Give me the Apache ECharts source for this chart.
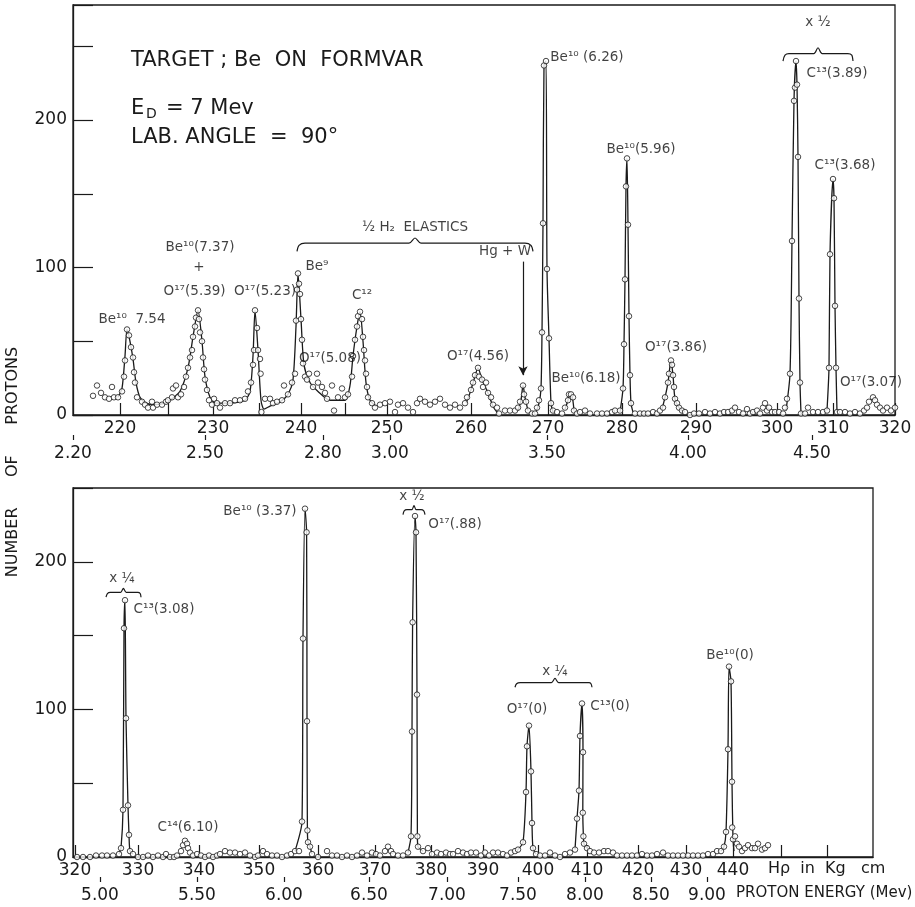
<!DOCTYPE html>
<html>
<head>
<meta charset="utf-8">
<script src="https://cdn.jsdelivr.net/npm/echarts@6/dist/echarts.min.js"></script>
<style>
html,body{margin:0;padding:0;background:#fff;}
#chart{width:915px;height:907px;}
</style>
</head>
<body>
<div id="chart"></div>
<script>
// ---------- DATA ----------
// x = position along the plate (arbitrary plate units), y = number of protons
const topPoints = [
[5,13],[6,20],[7,15],[8,12],[9,11],[9.75,19],[10.25,12],[11.25,12],[12.25,16],[12.75,26],[13,37],[13.5,58],[14,54],[14.5,46],[15,39],[15.25,29],[15.5,22],[16,12],[17.25,9],[18,7],[18.75,5],[19.75,9],[20,5],[21,7],[22.25,7],[23.25,9],[23.75,10],[24.75,12],[25,18],[25.75,20],[26.25,12],[27,14],[27.75,19],[28.25,26],[28.75,32],[29.25,39],[29.75,44],[30,53],[30.5,60],[30.75,66],[31.25,71],[31.5,65],[31.75,56],[32.25,50],[32.5,39],[32.75,31],[33,24],[33.5,17],[34,10],[34.75,7],[35.25,11],[36,8],[36.75,5],[38,8],[39.25,8],[40.5,10],[41.75,10],[43,11],[43.75,16],[44.5,22],[45,34],[45.25,44],[45.5,71],[46,59],[46.25,44],[46.75,38],[46.9,28],[47.1,2],[48,11],[49.25,11],[50,8],[51,9],[52.25,10],[52.75,20],[53.75,14],[54.75,22],[55.5,28],[55.75,64],[56,85],[56.25,96],[56.5,89],[56.75,82],[57,65],[57.25,51],[57.5,35],[58,26],[58.5,24],[59,28],[60,19],[61,28],[61.25,22],[62.25,19],[63,15],[63.5,11],[64.75,20],[65.25,3],[66.25,12],[67.25,18],[68,12],[68.75,14],[69.75,26],[70,40],[70.5,51],[71,60],[71.25,67],[71.75,70],[72.25,65],[72.5,53],[72.75,44],[73,37],[73.25,28],[73.5,19],[73.75,12],[74.75,8],[75.5,5],[76.75,7],[78,8],[79.25,9],[80.5,2],[81.25,7],[82.5,8],[83.75,5],[85,2],[86,8],[86.75,11],[88,9],[89.25,7],[90.5,9],[91.75,11],[93,7],[94.25,5],[95.5,7],[96.75,5],[98,8],[98.5,12],[99.5,17],[100,22],[100.5,27],[101.25,32],[101.5,26],[102.25,24],[102.5,19],[103.25,22],[103.75,15],[104.5,12],[105,7],[106,5],[106.5,1],[108,3],[109.25,3],[110.5,3],[111.25,5],[111.75,9],[112.5,20],[112.75,14],[113.25,9],[113.75,3],[114.75,1],[115.5,1],[116,5],[116.5,10],[117,18],[117.25,56],[117.5,130],[117.75,237],[118.25,240],[118.5,99],[119,52],[119.5,8],[120,3],[121,2],[122.25,1],[123,5],[123.75,10],[124,14],[124.5,14],[125,12],[125.25,3],[126,1],[126.75,2],[128,3],[129.25,1],[131,1],[132.25,1],[133.5,1],[134.75,2],[135.5,3],[136.75,3],[137.5,18],[137.75,48],[138,92],[138.25,155],[138.5,174],[138.75,129],[139,67],[139.25,27],[139.5,8],[140.5,1],[141.75,1],[142.75,1],[143.75,1],[145,2],[146,1],[146.75,3],[147.5,5],[148,12],[148.75,22],[149,28],[149.5,37],[149.75,34],[150,27],[150.25,19],[150.5,11],[151,8],[151.5,5],[152.25,3],[153,2],[154.25,0],[155.25,1],[156.5,1],[158,2],[159.25,1],[160.5,2],[161.75,1],[162.75,2],[163.75,2],[164.75,3],[165.5,5],[166.5,2],[167.5,1],[168.5,4],[169.25,1],[170,2],[171,3],[171.75,1],[172.5,5],[173,8],[173.5,3],[174,5],[174.75,2],[175.5,2],[176.5,2],[177.5,1],[178,5],[178.5,11],[179.25,28],[179.75,118],[180.25,213],[180.5,222],[180.75,240],[181,224],[181.25,175],[181.5,79],[181.75,22],[182,1],[183,1],[183.75,5],[185,2],[186.25,2],[187.5,2],[188.5,3],[189,32],[189.25,109],[190,160],[190.25,147],[190.5,74],[190.75,32],[191,2],[191.75,2],[193,2],[194.25,1],[195.5,2],[196.75,1],[197.75,3],[198.5,5],[199,9],[200,12],[200.5,10],[201,7],[201.75,5],[202.5,3],[203.5,5],[204.5,3],[205.5,5]
];
const topCurves = [
  [[11.25,12],[12.25,18],[13,40],[13.5,58],[14.25,50],[15,38],[15.75,22],[16.75,12],[18.25,8],[20.5,7],[23,8],[24.75,11],[26.75,16],[28.75,32],[30,53],[31.25,71],[32.25,50],[33,26],[34.25,12],[35.75,8],[39.25,8],[43,10],[44.25,16],[45,40],[45.5,71],[46.25,44],[47,10],[47.75,4],[49.25,6],[51.75,9],[53.75,14],[55,24],[55.75,60],[56.25,96],[57,65],[57.75,34],[59.25,22],[61.25,16],[64.25,10],[68,10],[69.25,20],[70,40],[71,60],[71.75,70],[72.5,50],[73.25,22],[74.25,10],[75.75,6]],
  [[98.25,8],[99.25,15],[100.25,24],[101.25,32],[102.25,24],[103.75,15],[105,6],[106.25,1]],
  [[111.25,3],[112,10],[112.5,20],[113,12],[113.75,3]],
  [[115.75,2],[116.5,8],[117,18],[117.25,56],[117.5,130],[117.75,237],[118.25,240],[118.5,99],[119,52],[119.5,8],[120,2]],
  [[123,4],[123.75,10],[124,14],[124.75,13],[125.25,3]],
  [[136.75,2],[137.5,18],[137.75,48],[138,92],[138.25,155],[138.5,174],[138.75,129],[139,67],[139.25,27],[139.5,8],[140,2]],
  [[147.25,4],[148,12],[148.75,22],[149.5,37],[150,27],[150.5,11],[151.5,5],[152.75,2]],
  [[178.25,3],[179.25,28],[179.75,118],[180.25,213],[180.75,240],[181,224],[181.25,175],[181.5,79],[181.75,22],[182,1]],
  [[188.5,3],[189,32],[189.25,109],[190,160],[190.25,147],[190.5,74],[190.75,32],[191,2]]
];
const bottomPoints = [
[1,0],[2.5,0],[4.25,0],[5.75,1],[7.25,1],[8.5,1],[10,1],[11.5,2],[12,6],[12.5,32],[12.75,155],[13,174],[13.25,94],[13.75,35],[14,15],[14.25,4],[15,2],[16.25,0],[17.5,0],[18.75,1],[20,0],[21.25,1],[22.5,0],[23.25,2],[24.25,0],[25.25,0],[26,1],[27,4],[27.5,8],[28,11],[28.5,9],[28.75,6],[29.25,3],[30,1],[31,2],[32,1],[33,0],[34,1],[35,0],[36,1],[36.75,2],[38,4],[39.25,3],[40.5,3],[41.75,2],[43,3],[44.25,1],[45.5,0],[46.25,1],[47.5,4],[48.5,2],[49.75,1],[51,1],[52.25,0],[53.5,1],[54.5,2],[55.5,4],[56.5,4],[57.25,24],[57.5,148],[58,236],[58.4,220],[58.5,92],[58.6,18],[58.75,10],[59.25,7],[59.75,2],[61.25,0],[63.5,4],[64.75,1],[66,1],[67.25,0],[68.5,1],[69.75,0],[71,1],[72.25,3],[73.5,1],[74.75,3],[75.75,2],[76.75,1],[78,4],[78.75,7],[79.5,4],[80,2],[81.25,1],[82.5,1],[83.75,3],[84.5,14],[84.75,85],[84.9,159],[85.5,231],[85.75,220],[86,110],[86.1,14],[86.25,7],[87.5,4],[88.75,6],[89.75,2],[91,3],[92,2],[93.25,3],[94.25,2],[95,2],[96.25,4],[97.5,3],[98.5,2],[99.5,3],[100.75,3],[102,1],[103,3],[104,1],[105,3],[106.25,3],[107.5,2],[108.5,1],[109.5,3],[110.5,4],[111.25,5],[112.5,10],[113.25,44],[113.5,75],[114,89],[114.5,58],[114.75,23],[115,6],[115.75,2],[116.75,1],[118,1],[119.25,3],[120.5,1],[121.75,0],[123,2],[124.25,3],[125.5,5],[126,26],[126.5,45],[126.75,82],[127.25,104],[127.5,71],[127.45,30],[127.6,14],[127.75,9],[128.5,6],[129.25,4],[130.25,3],[131.5,3],[132.75,4],[133.75,4],[135,3],[136,1],[137.25,1],[138.5,1],[139.75,1],[141,1],[142.25,2],[143.5,1],[144.75,1],[146,2],[147.5,3],[148.75,1],[150,1],[151.25,1],[152.5,1],[153.75,1],[155,1],[156.25,1],[157.5,1],[158.75,2],[160,2],[161,4],[162,4],[162.75,7],[163.25,17],[163.75,73],[164,129],[164.5,119],[164.75,51],[164.8,20],[165,12],[165.5,14],[166,9],[166.5,7],[167.25,4],[168,6],[168.75,8],[169.75,6],[170.5,6],[171.25,9],[172.25,5],[173,6],[173.75,8]
];
const bottomCurves = [
  [[11.5,2],[12,6],[12.5,32],[12.75,155],[13,174],[13.25,94],[13.75,35],[14,15],[14.25,4],[15,2]],
  [[55.5,4],[57.25,24],[57.5,148],[58,236],[58.4,220],[58.5,92],[58.6,18],[58.75,10],[59.25,7],[59.75,2]],
  [[83.75,3],[84.5,14],[84.75,85],[84.9,159],[85.5,231],[85.75,220],[86,110],[86.1,14],[86.25,7],[87.5,4]],
  [[111.25,5],[112.5,10],[113.25,44],[113.5,75],[114,89],[114.5,58],[114.75,23],[115,6],[115.75,2]],
  [[125.5,5],[126,26],[126.5,45],[126.75,82],[127.25,104],[127.5,71],[127.45,30],[127.6,14],[127.75,9],[128.5,6]],
  [[162,4],[162.75,7],[163.25,17],[163.75,73],[164,129],[164.5,119],[164.75,51],[165,12],[165.25,4]]
];

// tick labels (Hρ in kG·cm and proton energy in Mev) at their plate positions
const topHrhoPos = [11.75,35,57,78.5,99.5,118.75,137.25,155.75,176,190,205.5];
const topHrhoLabels = ['220','230','240','250','260','270','280','290','300','310','320'];
const topHrhoHalfTicks = [23.75,46.5,68];
const topEnergyPos = [0,33,62.5,79.25,118.5,153.75,184.75];
const topEnergyLabels = ['2.20','2.50','2.80','3.00','3.50','4.00','4.50'];
const bottomHrhoPos = [0.5,16.25,31.5,46.5,61.25,75.5,89.5,102.5,116.25,128.5,141.25,153.25,165];
const bottomHrhoLabels = ['320','330','340','350','360','370','380','390','400','410','420','430','440'];
const bottomHrhoExtraTicks = [177,188.5];
const bottomEnergyPos = [6.75,31,52.75,74,93.5,111.25,128,144.5,158.5];
const bottomEnergyLabels = ['5.00','5.50','6.00','6.50','7.00','7.50','8.00','8.50','9.00'];

// peak annotations [x, y, text]
const topNotes = [
  [14.75,65,'Be¹⁰  7.54'],[31.75,113.5,'Be¹⁰(7.37)'],[31.5,100,'+'],[30.4,84,'O¹⁷(5.39)'],[48,84,'O¹⁷(5.23)'],
  [61,101,'Be⁹'],[72.25,81,'C¹²'],[64.25,38,'O¹⁷(5.08)'],[101.25,40,'O¹⁷(4.56)'],[85.5,127,'½ H₂  ELASTICS'],
  [108,110.7,'Hg + W'],[128.5,242.5,'Be¹⁰ (6.26)'],[142,180,'Be¹⁰(5.96)'],[128.25,25,'Be¹⁰(6.18)'],
  [150.75,45.5,'O¹⁷(3.86)'],[186.25,266,'x ½'],[191,231.7,'C¹³(3.89)'],[193,169,'C¹³(3.68)'],[199.5,21.7,'O¹⁷(3.07)']
];
const bottomNotes = [
  [12.25,189,'x ¼'],[22.75,168,'C¹³(3.08)'],[28.75,20.3,'C¹⁴(6.10)'],[46.75,234,'Be¹⁰ (3.37)'],
  [84.75,244,'x ½'],[95.5,225,'O¹⁷(.88)'],[120.5,125.4,'x ¼'],[113.5,99.7,'O¹⁷(0)'],[134.25,101.7,'C¹³(0)'],[164.25,136.3,'Be¹⁰(0)']
];
// braces [[x,y],...]
const topBraces = [
  [[56,111],[56.5,115],[58,116.5],[84,116.5],[85.5,120],[87,116.5],[113,116.5],[114.5,115],[115,111]],
  [[177.5,240],[178,244],[179,245],[185.2,245],[186.25,249],[187.3,245],[193.7,245],[194.7,244],[195,240]]
];
const bottomBraces = [
  [[8.25,176],[8.6,178.5],[9.3,179.3],[11.9,179.3],[12.6,182],[13.3,179.3],[16.2,179.3],[16.8,178.5],[17,176]],
  [[82.5,232],[82.8,234.5],[83.5,235.3],[84.7,235.3],[85.25,238],[85.8,235.3],[87,235.3],[87.7,234.5],[88,232]],
  [[110.5,115],[110.9,117.4],[111.8,118.2],[119.6,118.2],[120.5,121],[121.4,118.2],[129,118.2],[129.5,117.4],[129.75,115]]
];
const hgArrow = [[112.5,104],[112.5,27]];

// ---------- CHART ----------
const FONT = 'DejaVu Sans';
const INK = '#1a1a1a';
const chart = echarts.init(document.getElementById('chart'), null, {renderer:'canvas'});

function mapper(pos, labels){
  return function(v){
    for (let i=0;i<pos.length;i++){ if (Math.abs(pos[i]-v)<1e-6) return labels[i]; }
    return '';
  };
}
function hrhoAxis(grid, max, labelPos, labels, tickPos){
  return {
    type:'value', gridIndex:grid, min:0, max:max, position:'bottom',
    axisLine:{show:true, lineStyle:{color:INK, width:1.3}},
    axisTick:{show:true, inside:true, length:12, customValues:tickPos, lineStyle:{color:INK, width:1.2}},
    axisLabel:{show:true, customValues:labelPos, formatter:mapper(labelPos, labels), margin:5,
      fontFamily:FONT, fontSize:17, color:INK},
    splitLine:{show:false}
  };
}
function energyAxis(grid, max, pos, labels){
  return {
    type:'value', gridIndex:grid, min:0, max:max, position:'bottom', offset:20,
    axisLine:{show:false},
    axisTick:{show:true, inside:false, length:5, customValues:pos, lineStyle:{color:INK, width:1.2}},
    axisLabel:{show:true, customValues:pos, formatter:mapper(pos, labels), margin:10,
      fontFamily:FONT, fontSize:17, color:INK},
    splitLine:{show:false}
  };
}
function yAxis(grid, max){
  return {
    type:'value', gridIndex:grid, min:0, max:max, interval:50,
    axisLine:{show:true, lineStyle:{color:INK, width:1.3}},
    axisTick:{show:true, inside:true, length:20, lineStyle:{color:INK, width:1.2}},
    axisLabel:{formatter:function(v){ return (v%100===0 && v<=200) ? String(v) : ''; }, margin:6,
      fontFamily:FONT, fontSize:17, color:INK},
    splitLine:{show:false}
  };
}

const series = [];
function addPanel(xi, yi, points, curves, notes, braces){
  curves.forEach(function(c){
    series.push({type:'line', xAxisIndex:xi, yAxisIndex:yi, data:c, showSymbol:false, smooth:0.25,
      lineStyle:{color:INK, width:1.3}, silent:true, z:2});
  });
  braces.forEach(function(b){
    series.push({type:'line', xAxisIndex:xi, yAxisIndex:yi, data:b, showSymbol:false, smooth:0.3,
      lineStyle:{color:INK, width:1.2}, silent:true, z:2});
  });
  series.push({type:'scatter', xAxisIndex:xi, yAxisIndex:yi, data:points, symbol:'circle', symbolSize:5.5,
    itemStyle:{color:'#fff', borderColor:INK, borderWidth:1}, silent:true, z:3});
  series.push({type:'scatter', xAxisIndex:xi, yAxisIndex:yi, symbolSize:0, silent:true, z:4,
    data:notes.map(function(n){ return {value:[n[0],n[1]], name:n[2]}; }),
    label:{show:true, position:'inside', formatter:function(p){ return p.name; },
      fontFamily:FONT, fontSize:13.5, color:'#111'}});
}
addPanel(0, 0, topPoints, topCurves, topNotes, topBraces);
addPanel(2, 1, bottomPoints, bottomCurves, bottomNotes, bottomBraces);
series.push({type:'line', xAxisIndex:0, yAxisIndex:0, data:[], silent:true,
  markLine:{silent:true, symbol:['none','arrow'], symbolSize:[7,9], label:{show:false},
    lineStyle:{color:INK, width:1.2, type:'solid'},
    data:[[{coord:hgArrow[0]},{coord:hgArrow[1]}]]}});

const option = {
  animation:false,
  backgroundColor:'#fff',
  grid:[
    {left:73, top:5, width:822, height:410, show:true, borderColor:INK, borderWidth:1.3, backgroundColor:'transparent'},
    {left:73, top:488, width:800, height:369, show:true, borderColor:INK, borderWidth:1.3, backgroundColor:'transparent'}
  ],
  xAxis:[
    hrhoAxis(0, 205.5, topHrhoPos, topHrhoLabels, topHrhoPos.concat(topHrhoHalfTicks)),
    energyAxis(0, 205.5, topEnergyPos, topEnergyLabels),
    hrhoAxis(1, 200, bottomHrhoPos, bottomHrhoLabels, bottomHrhoPos.concat(bottomHrhoExtraTicks)),
    energyAxis(1, 200, bottomEnergyPos, bottomEnergyLabels)
  ],
  yAxis:[ yAxis(0, 278), yAxis(1, 250) ],
  series:series,
  graphic:[
    {type:'text', left:131, top:50, style:{text:'TARGET ; Be  ON  FORMVAR', fontFamily:FONT, fontSize:21, fill:INK}},
    {type:'text', left:131, top:98, style:{text:'E', fontFamily:FONT, fontSize:21, fill:INK}},
    {type:'text', left:146, top:107, style:{text:'D', fontFamily:FONT, fontSize:14, fill:INK}},
    {type:'text', left:166, top:98, style:{text:'= 7 Mev', fontFamily:FONT, fontSize:21, fill:INK}},
    {type:'text', left:131, top:127, style:{text:'LAB. ANGLE  =  90°', fontFamily:FONT, fontSize:21, fill:INK}},
    {type:'text', x:13, y:462, rotation:Math.PI/2,
      style:{text:'NUMBER      OF      PROTONS', fontFamily:FONT, fontSize:16, fill:INK, align:'center', verticalAlign:'middle'}},
    {type:'text', left:768, top:861, style:{text:'Hρ  in  Kg   cm', fontFamily:FONT, fontSize:16, fill:INK}},
    {type:'text', left:736, top:886, style:{text:'PROTON ENERGY (Mev)', fontFamily:FONT, fontSize:15, fill:INK}}
  ]
};
chart.setOption(option);
</script>
</body>
</html>
